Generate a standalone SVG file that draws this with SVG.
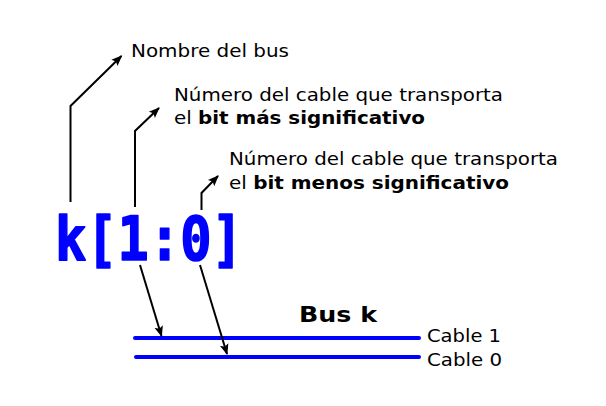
<svg xmlns="http://www.w3.org/2000/svg" width="606" height="406" viewBox="0 0 606 406">
<style>
.t{font-family:"DejaVu Sans",sans-serif;font-size:18px;fill:#000}
.b{font-weight:bold}
.a{fill:none;stroke:#000;stroke-width:2;marker-end:url(#ah)}
.w{stroke:#0000ff;stroke-width:4;stroke-linecap:round}
</style>
<defs>
<marker id="ah" viewBox="0 0 10 10" refX="9" refY="5" markerWidth="5.5" markerHeight="5.5" orient="auto" markerUnits="strokeWidth">
<path d="M0,1 L10,5 L0,9 L2,5 Z" fill="#000"/>
</marker>
</defs>
<rect width="606" height="406" fill="#fff"/>
<g id="bus-name">
<text transform="translate(55,260) scale(1,1.16)" style="font-family:'DejaVu Sans Mono',monospace;font-weight:bold;font-size:52px;fill:#0000ff;stroke:#0000ff;stroke-width:1.4;stroke-linejoin:round">k[1:0]</text>
</g>
<g id="label-nombre"><text class="t" x="131" y="57" textLength="158" lengthAdjust="spacingAndGlyphs">Nombre del bus</text></g>
<g id="label-msb"><text class="t" x="174" y="101" textLength="329" lengthAdjust="spacingAndGlyphs">Número del cable que transporta</text><text class="t" x="174" y="124" textLength="251" lengthAdjust="spacingAndGlyphs">el <tspan class="b">bit más significativo</tspan></text></g>
<g id="label-lsb"><text class="t" x="229" y="164.5" textLength="329" lengthAdjust="spacingAndGlyphs">Número del cable que transporta</text><text class="t" x="229" y="189" textLength="280" lengthAdjust="spacingAndGlyphs">el <tspan class="b">bit menos significativo</tspan></text></g>
<g id="bus">
<text class="t b" x="299" y="322" style="font-size:21px" textLength="78" lengthAdjust="spacingAndGlyphs">Bus k</text>
<line class="w" x1="135" y1="338" x2="419" y2="338"/>
<line class="w" x1="136" y1="357" x2="419" y2="357"/>
<text class="t" x="427" y="342" textLength="74" lengthAdjust="spacingAndGlyphs">Cable 1</text>
<text class="t" x="427" y="366" textLength="75" lengthAdjust="spacingAndGlyphs">Cable 0</text>
</g>
<g id="connectors">
<polyline class="a" points="70.5,202 70.5,106 121.5,56"/>
<polyline class="a" points="135,207 135,131 159,108"/>
<polyline class="a" points="201.5,210 201.5,193 218,176"/>
<line class="a" x1="140" y1="265" x2="161.5" y2="336"/>
<line class="a" x1="200" y1="265" x2="227" y2="354"/>
</g>
</svg>
